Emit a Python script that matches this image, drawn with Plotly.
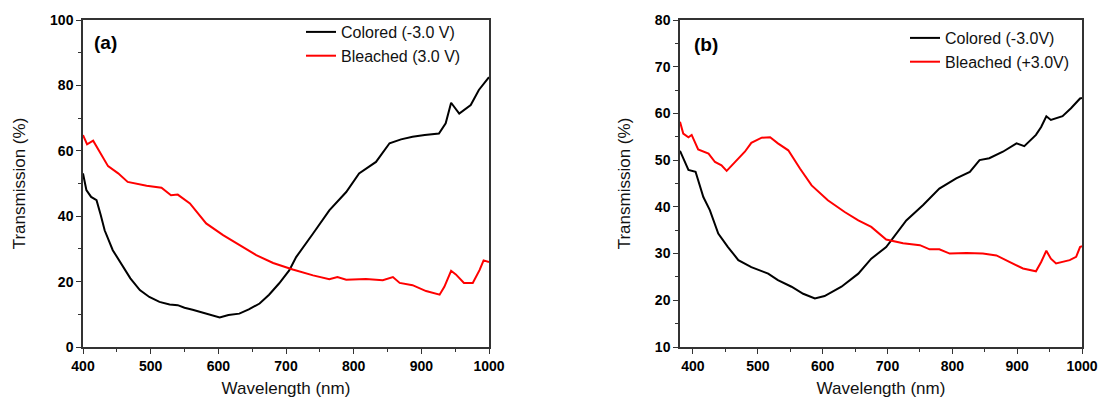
import plotly.graph_objects as go

# ---- Panel (a) ----
a_col_wl = [400, 405, 412, 420, 426, 432, 444, 457, 470, 484, 498, 513, 528, 540, 550, 562, 580, 602, 615, 631, 645, 661, 675, 685, 690, 705, 715, 740,
            764, 789, 808, 833, 853, 870, 887, 905, 926, 936, 944, 956, 973, 985, 998, 1000]
a_col_t = [53.1, 48.0, 45.9, 44.9, 40.5, 35.7, 29.6, 25.5, 21.0, 17.4, 15.3, 13.8, 13.0, 12.8, 12.0, 11.4, 10.4, 9.0, 9.8, 10.2, 11.5, 13.3, 16.0, 18.4, 19.5, 23.5, 27.5, 34.7,
           41.8, 47.4, 53.1, 56.6, 62.3, 63.5, 64.3, 64.8, 65.3, 68.4, 74.7, 71.4, 74.0, 78.6, 82.2, 82.5]
a_ble_wl = [400, 406, 415, 425, 437, 452, 466, 494, 516, 530, 540, 558, 582, 607, 631, 656, 681, 703, 710,
            740, 764, 776, 789, 818, 843, 858, 868, 887, 907, 927, 934, 944, 951, 963, 976, 986, 992, 1000]
a_ble_t = [64.8, 62.0, 63.1, 59.7, 55.3, 53.1, 50.5, 49.3, 48.7, 46.4, 46.6, 43.9, 37.8, 34.2, 31.1, 28.1, 25.7, 24.0, 23.7,
           21.9, 20.7, 21.4, 20.6, 20.8, 20.4, 21.4, 19.6, 18.9, 17.1, 16.0, 18.4, 23.3, 22.2, 19.6, 19.6, 23.5, 26.5, 26.0]

# ---- Panel (b) ----
b_col_wl = [380, 393, 404, 416, 426, 439, 454, 470, 490, 516, 531, 552, 570, 588, 603, 629, 655, 675, 698,
            729, 755, 780, 806, 827, 842, 857, 878, 899, 911, 929, 937, 945, 952, 970, 983, 997, 1000]
b_col_t = [52.0, 47.9, 47.5, 42.1, 39.3, 34.3, 31.4, 28.6, 27.1, 25.7, 24.3, 22.9, 21.4, 20.4, 20.9, 22.9, 25.7, 28.9, 31.4,
           37.1, 40.4, 43.9, 46.1, 47.5, 50.0, 50.4, 51.8, 53.6, 53.0, 55.4, 57.1, 59.4, 58.6, 59.4, 61.1, 63.2, 63.3]
b_ble_wl = [380, 385, 393, 398, 408, 424, 434, 444, 452, 465, 480, 490, 506, 519, 531, 547, 565, 583, 608, 634,
            655, 675, 698, 724, 750, 765, 780, 796, 822, 847, 868, 888, 909, 929, 937, 945, 952, 960, 981, 991, 997, 1000]
b_ble_t = [58.2, 55.7, 54.9, 55.4, 52.3, 51.4, 49.6, 48.9, 47.7, 49.6, 51.8, 53.7, 54.8, 54.9, 53.6, 52.1, 48.2, 44.6, 41.4, 38.9,
           37.1, 35.7, 33.0, 32.2, 31.8, 30.9, 30.9, 30.0, 30.1, 30.0, 29.6, 28.2, 26.8, 26.2, 28.2, 30.6, 28.9, 27.9, 28.6, 29.3, 31.4, 31.6]

FONT = "Liberation Sans, Arial, sans-serif"

fig = go.Figure()
fig.add_trace(go.Scatter(x=a_col_wl, y=a_col_t, mode="lines", name="Colored (-3.0 V)",
                         line=dict(color="black", width=2), xaxis="x", yaxis="y", legend="legend"))
fig.add_trace(go.Scatter(x=a_ble_wl, y=a_ble_t, mode="lines", name="Bleached (3.0 V)",
                         line=dict(color="#ff0000", width=2), xaxis="x", yaxis="y", legend="legend"))
fig.add_trace(go.Scatter(x=b_col_wl, y=b_col_t, mode="lines", name="Colored (-3.0V)",
                         line=dict(color="black", width=2), xaxis="x2", yaxis="y2", legend="legend2"))
fig.add_trace(go.Scatter(x=b_ble_wl, y=b_ble_t, mode="lines", name="Bleached (+3.0V)",
                         line=dict(color="#ff0000", width=2), xaxis="x2", yaxis="y2", legend="legend2"))

W, H = 1098, 398
ydom = [(H - 347) / H, (H - 20) / H]

def xaxis(dom, rng, anchor):
    return dict(domain=dom, range=rng, anchor=anchor, dtick=100, tick0=400,
                ticks="outside", ticklen=5, tickwidth=1.2, tickcolor="#333",
                minor=dict(ticks="outside", ticklen=3, dtick=50, tick0=400, tickcolor="#333"),
                showline=True, linecolor="#333", linewidth=1.5, mirror=True,
                showgrid=False, zeroline=False,
                tickfont=dict(family=FONT, size=14, color="black", weight="bold"),
                title=dict(text="Wavelength (nm)", font=dict(family=FONT, size=17, color="#111"), standoff=13),
                automargin=False)

def yaxis(rng, dt, mdt, anchor):
    return dict(domain=ydom, range=rng, anchor=anchor, dtick=dt,
                ticks="outside", ticklen=5, tickwidth=1.2, tickcolor="#333",
                minor=dict(ticks="outside", ticklen=3, dtick=mdt, tickcolor="#333"),
                showline=True, linecolor="#333", linewidth=1.5, mirror=True,
                showgrid=False, zeroline=False,
                tickfont=dict(family=FONT, size=14, color="black", weight="bold"),
                title=dict(text="Transmission (%)", font=dict(family=FONT, size=17, color="#111"), standoff=20),
                automargin=False)

fig.update_layout(
    width=W, height=H,
    margin=dict(l=0, r=0, t=0, b=0),
    paper_bgcolor="white", plot_bgcolor="white",
    xaxis=xaxis([83 / W, 489 / W], [400, 1000], "y"),
    yaxis=yaxis([0, 100], 20, 10, "x"),
    xaxis2=xaxis([680 / W, 1082 / W], [380, 1000], "y2"),
    yaxis2=yaxis([10, 80], 10, 5, "x2"),
    legend=dict(x=301 / W, y=(H - 15) / H, xanchor="left", yanchor="top",
                bgcolor="rgba(0,0,0,0)", font=dict(family=FONT, size=16, color="#111"),
                tracegroupgap=0, itemwidth=30),
    legend2=dict(x=905 / W, y=(H - 21) / H, xanchor="left", yanchor="top",
                 bgcolor="rgba(0,0,0,0)", font=dict(family=FONT, size=16, color="#111"),
                 tracegroupgap=0, itemwidth=30),
    showlegend=True,
    annotations=[
        dict(text="<b>(a)</b>", xref="paper", yref="paper", x=92 / W, y=(H - 43) / H,
             xanchor="left", yanchor="middle", showarrow=False,
             font=dict(family=FONT, size=19, color="black")),
        dict(text="<b>(b)</b>", xref="paper", yref="paper", x=692 / W, y=(H - 44) / H,
             xanchor="left", yanchor="middle", showarrow=False,
             font=dict(family=FONT, size=19, color="black")),
    ],
)

fig.write_html("out.html")
